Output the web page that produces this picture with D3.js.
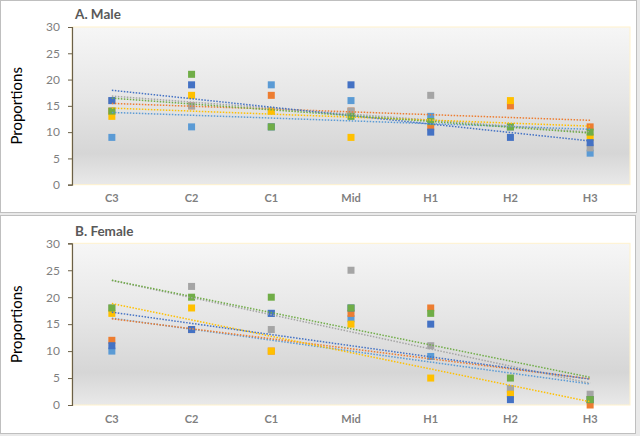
<!DOCTYPE html>
<html><head><meta charset="utf-8">
<script src="https://cdn.jsdelivr.net/npm/d3@7"></script>
<style>html,body{margin:0;padding:0;background:#fff;}svg{display:block;}</style>
</head><body>
<script>
const categories = ["C3","C2","C1","Mid","H1","H2","H3"];
const yTicks = [0,5,10,15,20,25,30];
const seriesNames = ["S1","S2","S3","S4","S5","S6"];
const seriesColors = ["#5B9BD5","#ED7D31","#A5A5A5","#FFC000","#4472C4","#70AD47"];

// Male panel values (one array per series)
const maleS1 = [9,11,19,16,13,11,6];
const maleS2 = [14,15,17,14,11,15,11];
const maleS3 = [16,15,14,14,17,11,7];
const maleS4 = [13,17,14,9,12,16,9];
const maleS5 = [16,19,11,19,10,9,8];
const maleS6 = [14,21,11,13,12,11,10];

// Female panel values
const femaleS1 = [10,14,17,16,9,3,1];
const femaleS2 = [12,14,10,17,18,2,0];
const femaleS3 = [18,22,14,25,11,3,2];
const femaleS4 = [17,18,10,15,5,2,1];
const femaleS5 = [11,14,17,18,15,1,1];
const femaleS6 = [18,20,20,18,17,5,1];

const panels = [
  {title:"A. Male", series:[maleS1,maleS2,maleS3,maleS4,maleS5,maleS6],
   box:{x:0.5,y:0.5,w:636,h:212}, plot:{l:72,r:630,t:27,b:184.7}, titleY:19},
  {title:"B. Female", series:[femaleS1,femaleS2,femaleS3,femaleS4,femaleS5,femaleS6],
   box:{x:0.5,y:215.5,w:635,h:218}, plot:{l:72,r:630,t:243.3,b:405}, titleY:236}
];

const W=640,H=436;
const svg = d3.select("body").append("svg").attr("width",W).attr("height",H);
svg.append("rect").attr("width",W).attr("height",H).attr("fill","#e9e9e9");

const defs = svg.append("defs");
const grad = defs.append("linearGradient").attr("id","bg").attr("x1",0).attr("y1",0).attr("x2",0).attr("y2",1);
grad.append("stop").attr("offset","0%").attr("stop-color","#f6f6f6");
grad.append("stop").attr("offset","45%").attr("stop-color","#e6e6e6");
grad.append("stop").attr("offset","80%").attr("stop-color","#d6d6d6");
grad.append("stop").attr("offset","100%").attr("stop-color","#e9e9e9");

const font = "Lato, 'Open Sans', sans-serif";

function linfit(vals){
  const n=vals.length; const xs=vals.map((_,i)=>i);
  const mx=d3.mean(xs), my=d3.mean(vals);
  let sxy=0,sxx=0;
  xs.forEach((x,i)=>{sxy+=(x-mx)*(vals[i]-my);sxx+=(x-mx)*(x-mx);});
  const m=sxy/sxx; return [my-m*mx, m];
}

panels.forEach(p=>{
  const g = svg.append("g");
  g.append("rect").attr("x",p.box.x).attr("y",p.box.y).attr("width",p.box.w).attr("height",p.box.h)
    .attr("fill","#fff").attr("stroke","#bfbfbf").attr("stroke-width",1);
  const pl=p.plot;
  const x = d3.scaleBand().domain(categories).range([pl.l,pl.r]);
  const y = d3.scaleLinear().domain([0,30]).range([pl.b,pl.t]);

  g.append("rect").attr("x",pl.l).attr("y",pl.t).attr("width",pl.r-pl.l).attr("height",pl.b-pl.t)
    .attr("fill","url(#bg)").attr("stroke","#fff2cc").attr("stroke-width",1);

  // y axis
  const ya = g.append("g").attr("transform",`translate(${pl.l},0)`)
    .call(d3.axisLeft(y).tickValues(yTicks).tickSize(4).tickPadding(8));
  ya.select(".domain").attr("stroke","#6b6047").attr("stroke-width",1.2);
  ya.selectAll(".tick line").attr("stroke","#6b6047");
  ya.selectAll("text").attr("fill","#7f7f7f").attr("font-size","12px").attr("font-family",font);

  // x axis labels
  const xa = g.append("g").attr("transform",`translate(0,${pl.b})`)
    .call(d3.axisBottom(x).tickSize(0).tickPadding(10));
  xa.select(".domain").remove();
  xa.selectAll("text").attr("fill","#7f7f7f").attr("font-size","11px").attr("font-weight","bold").attr("font-family",font);

  // title
  g.append("text").attr("x",75).attr("y",p.titleY).text(p.title)
    .attr("fill","#595959").attr("font-size","13.5px").attr("font-weight","bold").attr("font-family",font);
  // y label
  g.append("text").attr("transform",`translate(22,${(pl.t+pl.b)/2}) rotate(-90)`)
    .attr("text-anchor","middle").text("Proportions")
    .attr("fill","#000").attr("font-size","15px").attr("font-family",font);

  const cx = c=>x(c)+x.bandwidth()/2;
  // markers
  p.series.forEach((vals,si)=>{
    g.append("g").selectAll("rect").data(vals).join("rect")
      .attr("x",(d,i)=>cx(categories[i])-3.5).attr("y",d=>y(d)-3.5)
      .attr("width",7).attr("height",7).attr("fill",seriesColors[si]);
  });
  // trendlines
  p.series.forEach((vals,si)=>{
    const [b,m]=linfit(vals);
    g.append("line")
      .attr("x1",cx(categories[0])).attr("y1",y(b))
      .attr("x2",cx(categories[categories.length-1])).attr("y2",y(b+m*(categories.length-1)))
      .attr("stroke",seriesColors[si]).attr("stroke-width",1.5).attr("stroke-dasharray","1.5,1.5");
  });
});
</script>
</body></html>
